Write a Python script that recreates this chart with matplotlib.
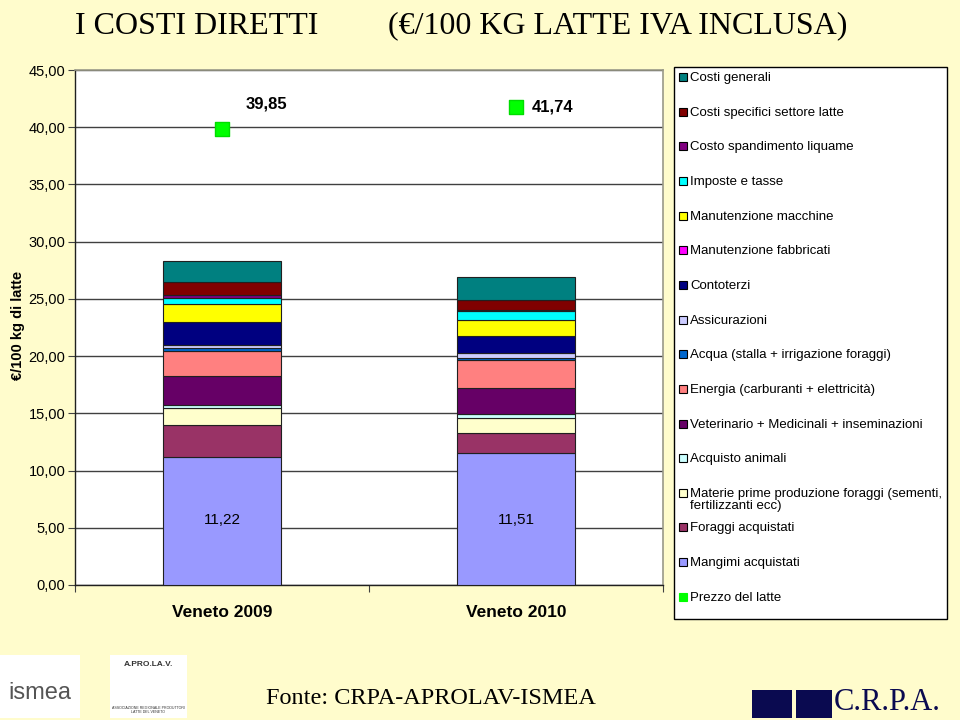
import matplotlib
matplotlib.use("Agg")
import matplotlib.pyplot as plt
from matplotlib.patches import Rectangle
import numpy as np

# ---------------- data ----------------
categories = ["Veneto 2009", "Veneto 2010"]

# stacked cost components, listed from bottom to top of the stack
series_names = [
    "Mangimi acquistati",
    "Foraggi acquistati",
    "Materie prime produzione foraggi (sementi,\nfertilizzanti ecc)",
    "Acquisto animali",
    "Veterinario + Medicinali + inseminazioni",
    "Energia (carburanti + elettricità)",
    "Acqua (stalla + irrigazione foraggi)",
    "Assicurazioni",
    "Contoterzi",
    "Manutenzione fabbricati",
    "Manutenzione macchine",
    "Imposte e tasse",
    "Costo spandimento liquame",
    "Costi specifici settore latte",
    "Costi generali",
]
mangimi = [11.22, 11.51]
foraggi = [2.77, 1.80]
materie_prime = [1.51, 1.31]
acquisto_animali = [0.24, 0.30]
veterinario = [2.56, 2.27]
energia = [2.16, 2.45]
acqua = [0.24, 0.17]
assicurazioni = [0.29, 0.44]
contoterzi = [1.95, 1.51]
manut_fabbricati = [0.03, 0.03]
manut_macchine = [1.61, 1.34]
imposte = [0.52, 0.79]
spandimento = [0.20, 0.10]
costi_specifici = [1.20, 0.92]
costi_generali = [1.80, 1.98]

series_values = [mangimi, foraggi, materie_prime, acquisto_animali, veterinario,
                 energia, acqua, assicurazioni, contoterzi, manut_fabbricati,
                 manut_macchine, imposte, spandimento, costi_specifici, costi_generali]

series_colors = ["#9999FF", "#993366", "#FFFFCC", "#CCFFFF", "#660066",
                 "#FF8080", "#0066CC", "#CCCCFF", "#000080", "#FF00FF",
                 "#FFFF00", "#00FFFF", "#800080", "#800000", "#008080"]

prezzo_latte = [39.85, 41.74]
prezzo_labels = ["39,85", "41,74"]
mangimi_labels = ["11,22", "11,51"]
yticks = [0, 5, 10, 15, 20, 25, 30, 35, 40, 45]

# ---------------- figure ----------------
BG = "#FFFCCC"
plt.rcParams['font.family'] = ['Liberation Sans', 'DejaVu Sans']
fig = plt.figure(figsize=(9.6, 7.2), dpi=100, facecolor=BG)
W, H = 960, 720

def fx(px):
    return px / W

def fy(py):
    return 1 - py / H

ax = fig.add_axes([fx(75), fy(585), fx(663) - fx(75), fy(70) - fy(585)])
ax.set_facecolor("white")

x = np.arange(len(categories))
bottom = np.zeros(len(categories))
bars = []
for name, vals, col in zip(series_names, series_values, series_colors):
    b = ax.bar(x, vals, width=0.4, bottom=bottom, color=col,
               edgecolor="#202020", linewidth=0.8, zorder=3, label=name)
    bars.append(b)
    bottom = bottom + np.array(vals)

# milk price markers
ax.scatter(x, prezzo_latte, marker="s", s=90, color="#00FF00",
           edgecolor="#00DD00", zorder=5)
# labels
ax.text(x[0] + 0.15, prezzo_latte[0] + 2.2, prezzo_labels[0], fontsize=12,
        fontweight="bold", ha="center", va="center")
ax.text(x[1] + 0.125, prezzo_latte[1], prezzo_labels[1], fontsize=12,
        fontweight="bold", ha="center", va="center")
for xi, v, lab in zip(x, mangimi, mangimi_labels):
    ax.text(xi, 5.7, lab, fontsize=11, ha="center", va="center")

ax.set_xlim(-0.5, 1.5)
ax.set_ylim(0, 45)
ax.set_yticks(yticks)
ax.set_yticklabels([f"{v:.2f}".replace(".", ",") for v in yticks], fontsize=10.5)
ax.set_xticks([-0.5, 0.5, 1.5])
ax.set_xticklabels([])
ax.tick_params(axis="x", direction="out", length=5, color="#404040")
ax.tick_params(axis="y", direction="out", length=5, color="#404040", pad=2)
ax.yaxis.grid(True, color="#404040", linewidth=1.0, zorder=0)
for s in ["left", "bottom"]:
    ax.spines[s].set_color("#202020")
    ax.spines[s].set_linewidth(1.0)
for s in ["top", "right"]:
    ax.spines[s].set_color("#999988")
    ax.spines[s].set_linewidth(1.2)

for xi, cat in zip(x, categories):
    ax.text(xi, -2.4, cat, fontsize=12.5, fontweight="bold", ha="center",
            va="center", transform=ax.transData, clip_on=False)

fig.text(fx(18), fy(325), "€/100 kg di latte", rotation=90, fontsize=10.5,
         fontweight="bold", ha="center", va="center")

# ---------------- legend (manual) ----------------
lg_left, lg_top, lg_right, lg_bottom = 674, 67, 947, 619
fig.patches.append(Rectangle((fx(lg_left), fy(lg_bottom)), fx(lg_right - lg_left),
                             fy(lg_top) - fy(lg_bottom), transform=fig.transFigure,
                             facecolor="white", edgecolor="black", linewidth=1.0))
legend_names = list(reversed(series_names)) + ["Prezzo del latte"]
legend_colors = list(reversed(series_colors)) + ["#00FF00"]
for i, (nm, col) in enumerate(zip(legend_names, legend_colors)):
    yc = 77 + i * 34.65
    fig.patches.append(Rectangle((fx(679), fy(yc + 4)), fx(8), fy(yc - 4) - fy(yc + 4),
                                 transform=fig.transFigure, facecolor=col,
                                 edgecolor=("black" if nm != "Prezzo del latte" else col),
                                 linewidth=0.8))
    fig.text(fx(690), fy(yc - 5), nm, fontsize=9.5, ha="left", va="top",
             linespacing=1.05)

# ---------------- titles ----------------
fig.text(fx(75), fy(26), "I COSTI DIRETTI", fontsize=23,
         family=["Liberation Serif"], ha="left", va="center")
fig.text(fx(388), fy(26), "(€/100 KG LATTE IVA INCLUSA)", fontsize=23,
         family=["Liberation Serif"], ha="left", va="center")
fig.text(fx(266), fy(698), "Fonte: CRPA-APROLAV-ISMEA", fontsize=17.5,
         family=["Liberation Serif"], ha="left", va="center")

# ---------------- logo approximations ----------------
fig.patches.append(Rectangle((fx(0), fy(718)), fx(80), fy(655) - fy(718),
                             transform=fig.transFigure, facecolor="white",
                             edgecolor="none"))
fig.text(fx(40), fy(693), "ismea", fontsize=17, color="#555555", ha="center",
         va="center")
fig.patches.append(Rectangle((fx(110), fy(718)), fx(77), fy(655) - fy(718),
                             transform=fig.transFigure, facecolor="white",
                             edgecolor="none"))
fig.text(fx(148), fy(665), "A.PRO.LA.V.", fontsize=6, color="#333333",
         ha="center", va="center", fontweight="bold")
fig.text(fx(148), fy(710), "ASSOCIAZIONE REGIONALE PRODUTTORI\nLATTE DEL VENETO",
         fontsize=2.6, color="#333333", ha="center", va="center")
fig.patches.append(Rectangle((fx(752), fy(718)), fx(40), fy(690) - fy(718),
                             transform=fig.transFigure, facecolor="#0A0A50",
                             edgecolor="none"))
fig.patches.append(Rectangle((fx(796), fy(718)), fx(36), fy(690) - fy(718),
                             transform=fig.transFigure, facecolor="#0A0A50",
                             edgecolor="none"))
fig.text(fx(834), fy(703), "C.R.P.A.", fontsize=22, color="#0A0A50",
         family=["Liberation Serif"], ha="left", va="center")

fig.savefig("out.png", dpi=100, facecolor=BG)
